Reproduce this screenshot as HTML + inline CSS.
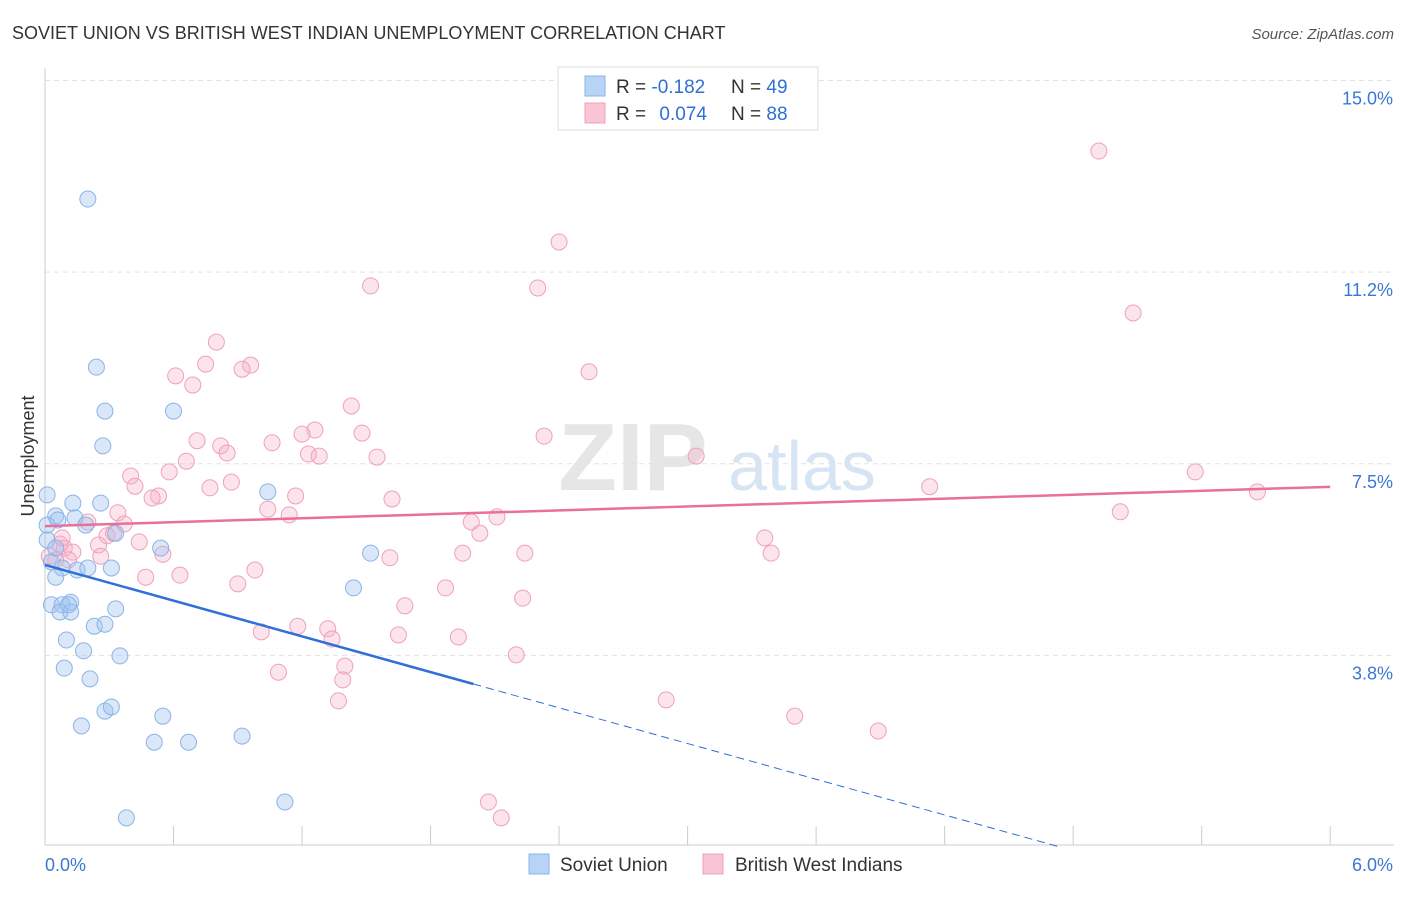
<!DOCTYPE html>
<html><head><meta charset="utf-8"><style>
body{margin:0;background:#fff;font-family:"Liberation Sans",sans-serif;}
svg text{font-family:"Liberation Sans",sans-serif;}
</style></head><body>
<svg id="chart" width="1406" height="892" viewBox="0 0 1406 892" xmlns="http://www.w3.org/2000/svg">
<text x="12" y="39" font-size="18" fill="#333">SOVIET UNION VS BRITISH WEST INDIAN UNEMPLOYMENT CORRELATION CHART</text>
<text x="1394" y="39" font-size="15" fill="#555" font-style="italic" text-anchor="end">Source: ZipAtlas.com</text>
<text x="633" y="490" font-size="96" fill="#e6e6e6" font-family="Liberation Serif" font-weight="bold" text-anchor="middle">ZIP</text>
<text x="802" y="490" font-size="70" fill="#d6e4f4" text-anchor="middle">atlas</text>
<g id="grid"></g>
<g id="axes"></g>
<g id="marks"></g>
<text x="34" y="456" font-size="18" fill="#333" text-anchor="middle" transform="rotate(-90 34 456)">Unemployment</text>
<g>
<rect x="558" y="67" width="260" height="63" fill="#fff" stroke="#ddd"/>
<rect x="585" y="76" width="20" height="20" fill="#b8d4f4" stroke="#8ab4e8"/>
<rect x="585" y="103" width="20" height="20" fill="#f9c4d4" stroke="#f0a0bc"/>
<text x="616" y="93" font-size="19" fill="#333">R = <tspan fill="#2f6fd6">-0.182</tspan></text>
<text x="731" y="93" font-size="19" fill="#333">N = <tspan fill="#2f6fd6">49</tspan></text>
<text x="616" y="120" font-size="19" fill="#333">R = <tspan fill="#2f6fd6" dx="8">0.074</tspan></text>
<text x="731" y="120" font-size="19" fill="#333">N = <tspan fill="#2f6fd6">88</tspan></text>
</g>
<g>
<rect x="529" y="854" width="20" height="20" fill="#b8d4f4" stroke="#8ab4e8"/>
<text x="560" y="871" font-size="19" fill="#333">Soviet Union</text>
<rect x="703" y="854" width="20" height="20" fill="#f9c4d4" stroke="#f0a0bc"/>
<text x="735" y="871" font-size="19" fill="#333">British West Indians</text>
</g>
</svg>
<script>
const yTicks=[3.75,7.5,11.25,15];
const yTickLabels=["3.8%","7.5%","11.2%","15.0%"];
const xTicks=[0,0.6,1.2,1.8,2.4,3.0,3.6,4.2,4.8,5.4,6.0];
const xLabels=["0.0%","6.0%"];
const sovietX=[0.20,0.24,0.28,0.60,0.27,0.01,0.13,0.26,1.04,0.05,0.14,0.19,0.33,0.01,0.54,1.52,0.03,0.08,0.15,0.20,0.31,0.05,1.44,0.03,0.08,0.12,0.07,0.12,0.33,0.23,0.28,0.10,0.18,0.35,0.09,0.21,0.28,0.31,0.55,0.17,0.51,0.67,0.92,1.12,0.38,0.01,0.05,0.06,0.11];
const sovietY=[12.68,9.39,8.53,8.53,7.85,6.89,6.73,6.73,6.95,6.48,6.44,6.30,6.14,6.01,5.85,5.75,5.58,5.46,5.42,5.46,5.46,5.28,5.07,4.74,4.74,4.79,4.60,4.60,4.66,4.32,4.36,4.05,3.84,3.74,3.50,3.29,2.66,2.74,2.56,2.37,2.05,2.05,2.17,0.88,0.57,6.30,5.85,6.40,4.74];
const bwiX=[4.92,2.40,1.52,2.30,5.08,0.80,0.75,0.96,0.61,0.92,0.69,2.54,1.43,1.26,1.20,1.48,2.33,0.71,1.06,0.82,0.85,1.23,1.28,1.55,0.66,3.04,0.58,0.40,0.42,0.87,0.77,5.37,0.53,0.50,4.13,1.17,1.62,5.66,1.04,1.14,0.34,0.20,0.37,2.11,1.99,5.02,2.03,0.29,0.32,0.44,0.25,0.07,0.09,3.36,0.13,3.39,2.24,1.95,0.55,0.26,1.61,0.98,0.02,0.11,0.47,0.63,0.90,1.87,1.68,2.23,1.18,1.01,1.32,1.34,1.65,1.93,2.20,1.40,1.09,1.39,2.90,1.37,3.50,3.89,2.07,2.13,0.05,0.08];
const bwiY=[13.62,11.84,10.98,10.94,10.45,9.88,9.45,9.43,9.22,9.35,9.04,9.30,8.63,8.16,8.08,8.10,8.04,7.95,7.91,7.85,7.71,7.69,7.65,7.63,7.55,7.65,7.34,7.26,7.06,7.14,7.03,7.34,6.87,6.83,7.05,6.87,6.81,6.95,6.61,6.50,6.54,6.36,6.32,6.46,6.36,6.56,6.14,6.09,6.14,5.97,5.91,5.93,5.85,6.05,5.77,5.75,5.75,5.75,5.73,5.69,5.66,5.42,5.69,5.62,5.28,5.32,5.15,5.07,4.72,4.87,4.32,4.21,4.27,4.07,4.15,4.11,3.76,3.54,3.42,3.27,2.88,2.86,2.56,2.27,0.88,0.57,5.62,6.05];
const sovietTrend=[5.52,-1.165];
const bwiTrend=[6.28,0.128];
const NS="http://www.w3.org/2000/svg";
const X=v=>45+v*214.2, Y=v=>847-v*51.1;
function mk(tag,attrs,parent){const e=document.createElementNS(NS,tag);for(const k in attrs)e.setAttribute(k,attrs[k]);document.getElementById(parent).appendChild(e);return e;}
yTicks.forEach((t,i)=>{
 const l=mk('line',{x1:45,x2:1394,y1:Y(t),y2:Y(t),stroke:'#e2e2e2','stroke-dasharray':'5,4'},'grid');
 
 
 const tx=mk('text',{x:1393,y:Y(t)+24,'font-size':18,fill:'#3a78d4','text-anchor':'end'},'axes');
 tx.textContent=yTickLabels[i];
 
 
});
let ax=mk('line',{x1:45,x2:45,y1:68,y2:845,stroke:'#ccc'},'axes');


ax=mk('line',{x1:45,x2:1394,y1:845,y2:845,stroke:'#ccc'},'axes');


xTicks.forEach(t=>{const l=mk('line',{x1:X(t),x2:X(t),y1:826,y2:845,stroke:'#ccc'},'axes');
 
 });
[[0,'start',45],[6,'end',1393]].forEach((d,i)=>{const t=mk('text',{x:d[2],y:871,'font-size':18,fill:'#3a78d4','text-anchor':d[1]},'axes');t.textContent=xLabels[i];
 
 });
bwiX.forEach((x,i)=>{const c=mk('circle',{cx:X(x),cy:Y(bwiY[i]),r:8,fill:'rgba(246,178,200,0.35)',stroke:'#f0a0bc','stroke-width':1},'marks');
 
 });
sovietX.forEach((x,i)=>{const c=mk('circle',{cx:X(x),cy:Y(sovietY[i]),r:8,fill:'rgba(160,196,240,0.4)',stroke:'#8ab4e8','stroke-width':1},'marks');
 
 });
let tl=mk('line',{x1:X(0),y1:Y(bwiTrend[0]),x2:X(6),y2:Y(bwiTrend[0]+6*bwiTrend[1]),stroke:'#e8709a','stroke-width':2.5},'marks');


const xEnd=2.0, xZero=-sovietTrend[0]/sovietTrend[1];
tl=mk('line',{x1:X(0),y1:Y(sovietTrend[0]),x2:X(xEnd),y2:Y(sovietTrend[0]+xEnd*sovietTrend[1]),stroke:'#2f6fd6','stroke-width':2.5},'marks');


tl=mk('line',{x1:X(xEnd),y1:Y(sovietTrend[0]+xEnd*sovietTrend[1]),x2:X(xZero),y2:Y(0),stroke:'#2f6fd6','stroke-width':1,'stroke-dasharray':'8,5'},'marks');


</script>
</body></html>
